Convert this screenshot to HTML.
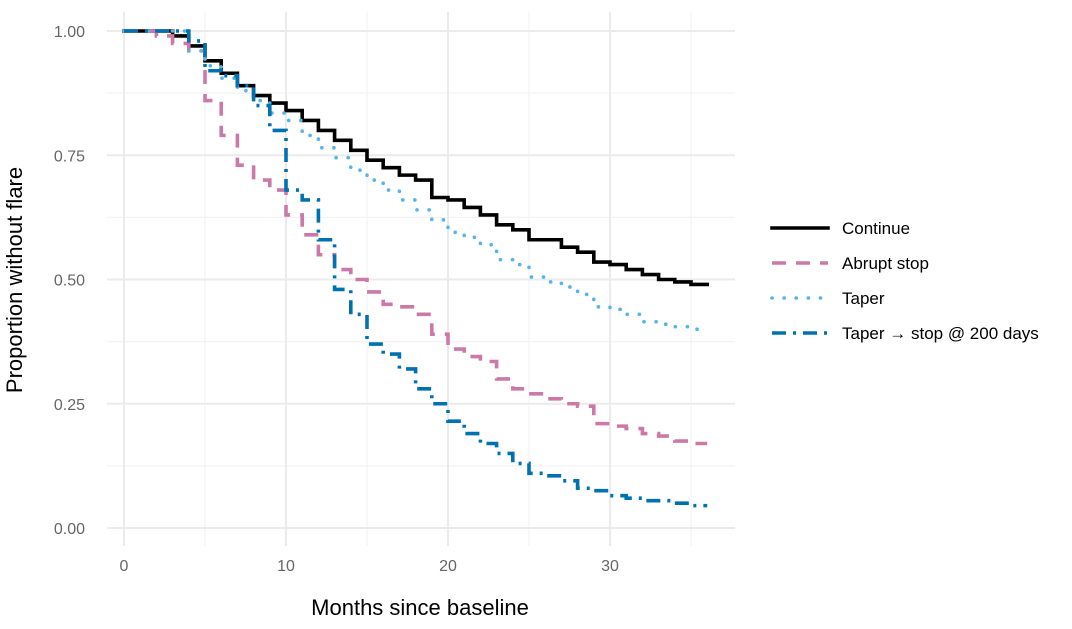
<!DOCTYPE html>
<html><head><meta charset="utf-8"><style>
body{margin:0;background:#fff;font-family:"Liberation Sans",sans-serif}
svg text{font-family:"Liberation Sans",sans-serif}
</style></head><body>
<svg id="chart" width="1072" height="624" viewBox="0 0 1072 624">
<g id="grid"></g>
<g id="series"></g>
<g id="axes"></g>
<text x="420" y="615" font-size="22" text-anchor="middle" fill="#000">Months since baseline</text>
<text transform="translate(22,280) rotate(-90)" font-size="22" text-anchor="middle" fill="#000">Proportion without flare</text>
<g id="legend"></g>
</svg>
<script>
const months=[0,1,2,3,4,5,6,7,8,9,10,11,12,13,14,15,16,17,18,19,20,21,22,23,24,25,26,27,28,29,30,31,32,33,34,35];
const continueVals=[1,1,1,0.99,0.97,0.94,0.915,0.89,0.87,0.855,0.84,0.82,0.80,0.78,0.76,0.74,0.725,0.71,0.70,0.665,0.66,0.645,0.63,0.61,0.60,0.58,0.58,0.565,0.555,0.535,0.53,0.52,0.51,0.50,0.495,0.49];
const abruptVals=[1,1,0.99,0.975,0.96,0.86,0.79,0.73,0.70,0.68,0.63,0.59,0.55,0.52,0.50,0.475,0.45,0.445,0.43,0.39,0.36,0.345,0.335,0.30,0.28,0.27,0.26,0.25,0.245,0.21,0.205,0.20,0.19,0.185,0.175,0.17];
const taperVals=[1,1,1,1,0.96,0.93,0.905,0.88,0.86,0.835,0.82,0.79,0.765,0.745,0.72,0.70,0.68,0.66,0.64,0.62,0.595,0.585,0.57,0.54,0.53,0.505,0.495,0.485,0.47,0.445,0.44,0.43,0.415,0.41,0.405,0.40];
const taperStopVals=[1,1,1,1,0.98,0.92,0.91,0.89,0.85,0.80,0.68,0.66,0.58,0.48,0.43,0.37,0.35,0.32,0.28,0.25,0.215,0.19,0.17,0.15,0.13,0.11,0.105,0.095,0.08,0.075,0.065,0.06,0.055,0.055,0.05,0.045];
const xEnd=36;
const xTicks=[0,10,20,30];
const xMinor=[5,15,25,35];
const yTicks=[0,0.25,0.5,0.75,1];
const yTickLabels=["0.00","0.25","0.50","0.75","1.00"];
const yMinor=[0.125,0.375,0.625,0.875];
const seriesNames=["Continue","Abrupt stop","Taper","Taper \u2192 stop @ 200 days"];

const X=v=>124+v*16.2;
const Y=v=>528-v*497;
const NS="http://www.w3.org/2000/svg";
function mk(tag,attrs,parent){const e=document.createElementNS(NS,tag);for(const k in attrs)e.setAttribute(k,attrs[k]);parent.appendChild(e);return e;}
const grid=document.getElementById('grid'),axes=document.getElementById('axes'),ser=document.getElementById('series'),leg=document.getElementById('legend');
const L=107,R=735,T=12,B=546;
yMinor.forEach(v=>{const l=mk('line',{x1:L,x2:R,y1:Y(v),y2:Y(v),stroke:'#f3f3f3','stroke-width':1.2},grid);

});
xMinor.forEach(v=>{const l=mk('line',{x1:X(v),x2:X(v),y1:T,y2:B,stroke:'#f3f3f3','stroke-width':1.2},grid);

});
yTicks.forEach((v,i)=>{const l=mk('line',{x1:L,x2:R,y1:Y(v),y2:Y(v),stroke:'#ebebeb','stroke-width':2},grid);


const t=mk('text',{x:85,y:Y(v)+6,'font-size':16,'text-anchor':'end',fill:'#666'},axes);t.textContent=yTickLabels[i];

});
xTicks.forEach(v=>{const l=mk('line',{x1:X(v),x2:X(v),y1:T,y2:B,stroke:'#ebebeb','stroke-width':2},grid);


const t=mk('text',{x:X(v),y:571,'font-size':16,'text-anchor':'middle',fill:'#666'},axes);t.textContent=v;

});
const styles=[{c:'#000000',d:'',cap:'square'},{c:'#cc79a7',d:'14 10',cap:'butt'},{c:'#56b4e9',d:'0.1 12',cap:'round'},{c:'#0072b2',d:'14 7 3 7',cap:'butt'}];
const data=[continueVals,abruptVals,taperVals,taperStopVals];
const names=['continue-line','abrupt-stop-line','taper-line','taper-stop-line'];
data.forEach((vals,si)=>{let d='M'+X(months[0])+','+Y(vals[0]);
for(let i=1;i<months.length;i++){d+=' H'+X(months[i])+' V'+Y(vals[i]);}
d+=' H'+X(xEnd);
const p=mk('path',{d:d,fill:'none',stroke:styles[si].c,'stroke-width':3.6,'stroke-dasharray':styles[si].d,'stroke-linecap':styles[si].cap,'stroke-linejoin':'miter'},ser);

});
seriesNames.forEach((n,i)=>{const y=228+i*35;
const g=mk('g',{},leg);


mk('line',{x1:772,x2:828,y1:y,y2:y,stroke:styles[i].c,'stroke-width':3.6,'stroke-dasharray':styles[i].d,'stroke-linecap':styles[i].cap},g);
const t=mk('text',{x:842,y:y+6,'font-size':17,fill:'#000'},g);t.textContent=n;});
</script>
</body></html>
